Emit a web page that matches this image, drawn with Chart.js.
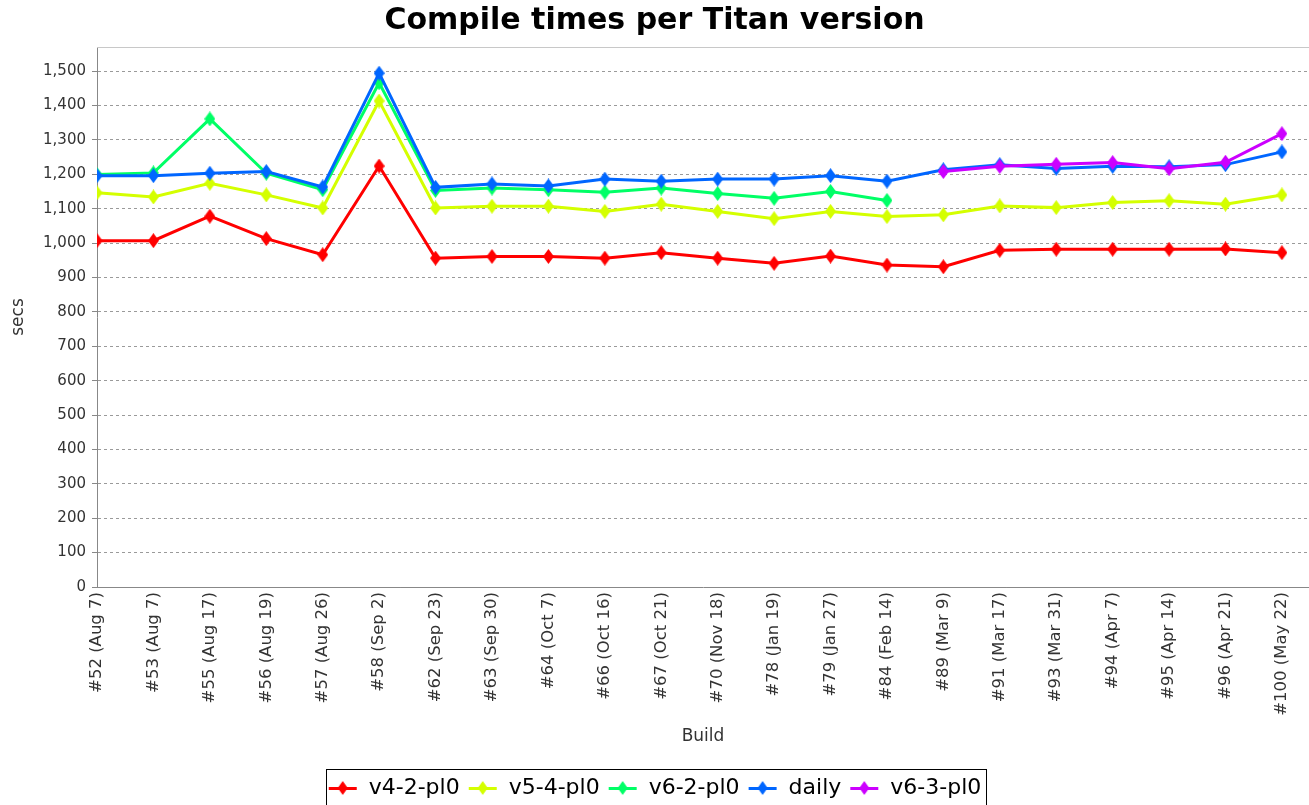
<!DOCTYPE html>
<html>
<head>
<meta charset="utf-8">
<title>Compile times per Titan version</title>
<script src="https://cdn.jsdelivr.net/npm/chart.js@4.4.0/dist/chart.umd.min.js"></script>
<style>
  html, body { margin: 0; padding: 0; background: #fff; }
  #chart { display: block; }
</style>
</head>
<body>
<canvas id="chart" width="1309" height="805"></canvas>
<script>
  const builds = ['#52 (Aug 7)', '#53 (Aug 7)', '#55 (Aug 17)', '#56 (Aug 19)', '#57 (Aug 26)', '#58 (Sep 2)',
    '#62 (Sep 23)', '#63 (Sep 30)', '#64 (Oct 7)', '#66 (Oct 16)', '#67 (Oct 21)', '#70 (Nov 18)',
    '#78 (Jan 19)', '#79 (Jan 27)', '#84 (Feb 14)', '#89 (Mar 9)', '#91 (Mar 17)', '#93 (Mar 31)',
    '#94 (Apr 7)', '#95 (Apr 14)', '#96 (Apr 21)', '#100 (May 22)'];

  const v4_2 = [1007, 1007, 1078, 1013, 966, 1224, 956, 961, 961, 956, 972, 956, 941, 962, 936, 931, 979, 982, 982, 982, 983, 972];
  const v5_4 = [1146, 1134, 1174, 1140, 1102, 1413, 1102, 1107, 1107, 1092, 1113, 1092, 1071, 1092, 1077, 1082, 1108, 1103, 1118, 1123, 1113, 1140];
  const v6_2 = [1199, 1204, 1361, 1203, 1155, 1466, 1153, 1160, 1155, 1148, 1160, 1144, 1130, 1150, 1124,
    null, null, null, null, null, null, null];
  const daily = [1196, 1196, 1203, 1208, 1163, 1494, 1162, 1172, 1166, 1186, 1180, 1186, 1186, 1196, 1180, 1213, 1228, 1217, 1223, 1222, 1228, 1265];
  const v6_3 = [null, null, null, null, null, null, null, null, null, null, null, null, null, null, null,
    1208, 1223, 1229, 1234, 1216, 1235, 1318];

  const seriesNames  = ['v4-2-pl0', 'v5-4-pl0', 'v6-2-pl0', 'daily', 'v6-3-pl0'];
  const seriesData   = [v4_2, v5_4, v6_2, daily, v6_3];
  const seriesColors = ['#ff0000', '#d4ff00', '#00ff66', '#0066ff', '#cc00ff'];

  const yTicks = { min: 0, max: 1570, step: 100 };

  // diamond marker, a bit taller than wide
  function diamond(color, w, h) {
    const c = document.createElement('canvas');
    c.width = w; c.height = h;
    const g = c.getContext('2d');
    g.fillStyle = color;
    g.beginPath();
    g.moveTo(w / 2, 0); g.lineTo(w, h / 2); g.lineTo(w / 2, h); g.lineTo(0, h / 2);
    g.closePath(); g.fill();
    return c;
  }
  // legend icon: short line with the diamond on it
  function legendIcon(color) {
    const c = document.createElement('canvas');
    c.width = 30; c.height = 14;
    const g = c.getContext('2d');
    g.fillStyle = color;
    g.fillRect(1, 6, 28, 3);
    g.drawImage(diamond(color, 10, 14), 10, 0);
    return c;
  }

  const n = seriesNames.length;
  const datasets = seriesNames.map((name, i) => ({
    label: name,
    data: seriesData[i].map((v, k) => ({ x: k, y: v })),
    borderColor: seriesColors[i],
    backgroundColor: seriesColors[i],
    borderWidth: 3,
    pointStyle: diamond(seriesColors[i], 11, 15),
    pointRadius: 6,
    pointHoverRadius: 6,
    spanGaps: false,
    tension: 0,
    order: n - 1 - i,          // later series drawn on top
    legendIcon: legendIcon(seriesColors[i])
  }));

  const frame = {
    id: 'frame',
    beforeDatasetsDraw(chart) {
      const { ctx, chartArea: a } = chart;
      ctx.save();
      ctx.strokeStyle = '#c8c8c8';
      ctx.lineWidth = 1;
      ctx.beginPath();
      ctx.moveTo(a.left, a.top + 0.5);
      ctx.lineTo(a.right, a.top + 0.5);
      ctx.stroke();
      ctx.restore();
    },
    afterDraw(chart) {
      const lg = chart.legend;
      if (!lg || !lg.legendHitBoxes.length) return;
      const hb = lg.legendHitBoxes;
      const left = Math.min(...hb.map(b => b.left)) - 2;
      const right = Math.max(...hb.map(b => b.left + b.width)) + 4;
      const top = hb[0].top - 8;
      const { ctx } = chart;
      ctx.save();
      ctx.strokeStyle = '#000';
      ctx.lineWidth = 1;
      ctx.strokeRect(Math.round(left) + 0.5, Math.round(top) + 0.5, Math.round(right - left), 60);
      ctx.restore();
    }
  };

  new Chart(document.getElementById('chart'), {
    type: 'line',
    data: { datasets },
    plugins: [frame],
    options: {
      responsive: false,
      animation: false,
      devicePixelRatio: 1,
      layout: { autoPadding: false, padding: { left: 0, right: 0, top: 0, bottom: -4 } },
      plugins: {
        title: {
          display: true,
          text: 'Compile times per Titan version',
          color: '#000',
          font: { family: 'DejaVu Sans', size: 30, weight: 'bold' },
          padding: { top: 3, bottom: 8 }
        },
        legend: {
          position: 'bottom',
          labels: {
            usePointStyle: true,
            pointStyleWidth: 30,
            padding: 8,
            color: '#222',
            font: { family: 'DejaVu Sans', size: 22 },
            generateLabels(chart) {
              return chart.data.datasets.map((d, i) => ({
                text: d.label,
                pointStyle: d.legendIcon,
                fillStyle: d.borderColor,
                strokeStyle: d.borderColor,
                lineWidth: 0,
                hidden: false,
                datasetIndex: i
              }));
            }
          }
        },
        tooltip: { enabled: false }
      },
      scales: {
        x: {
          type: 'linear',
          min: 0,
          max: 21.48,
          afterBuildTicks(scale) {
            scale.ticks = builds.map((b, k) => ({ value: k }));
          },
          afterFit(scale) {
            scale.height = 182;
            scale.paddingLeft = 0;
            scale.paddingRight = 0;
          },
          ticks: {
            autoSkip: false,
            minRotation: 90,
            maxRotation: 90,
            padding: 5,
            color: '#333',
            font: { family: 'DejaVu Sans', size: 16.5 },
            callback: v => builds[v]
          },
          grid: { display: false, drawTicks: false },
          border: { display: true, color: '#888', width: 1 },
          title: {
            display: true,
            text: 'Build',
            color: '#333',
            font: { family: 'DejaVu Sans', size: 17 },
            padding: { top: 0, bottom: 22 }
          }
        },
        y: {
          min: yTicks.min,
          max: yTicks.max,
          afterFit(scale) {
            scale.width = 97;
          },
          ticks: {
            stepSize: yTicks.step,
            includeBounds: false,
            padding: 6,
            color: '#333',
            font: { family: 'DejaVu Sans', size: 15 },
            callback: v => v.toLocaleString('en-US')
          },
          grid: { color: '#9a9a9a', lineWidth: 1, tickLength: 5, tickColor: '#888' },
          border: { display: true, color: '#888', width: 1, dash: [3, 3] },
          title: {
            display: true,
            text: 'secs',
            color: '#333',
            font: { family: 'DejaVu Sans', size: 17 },
            padding: { top: 8, bottom: 0 }
          }
        }
      }
    }
  });
</script>
</body>
</html>
